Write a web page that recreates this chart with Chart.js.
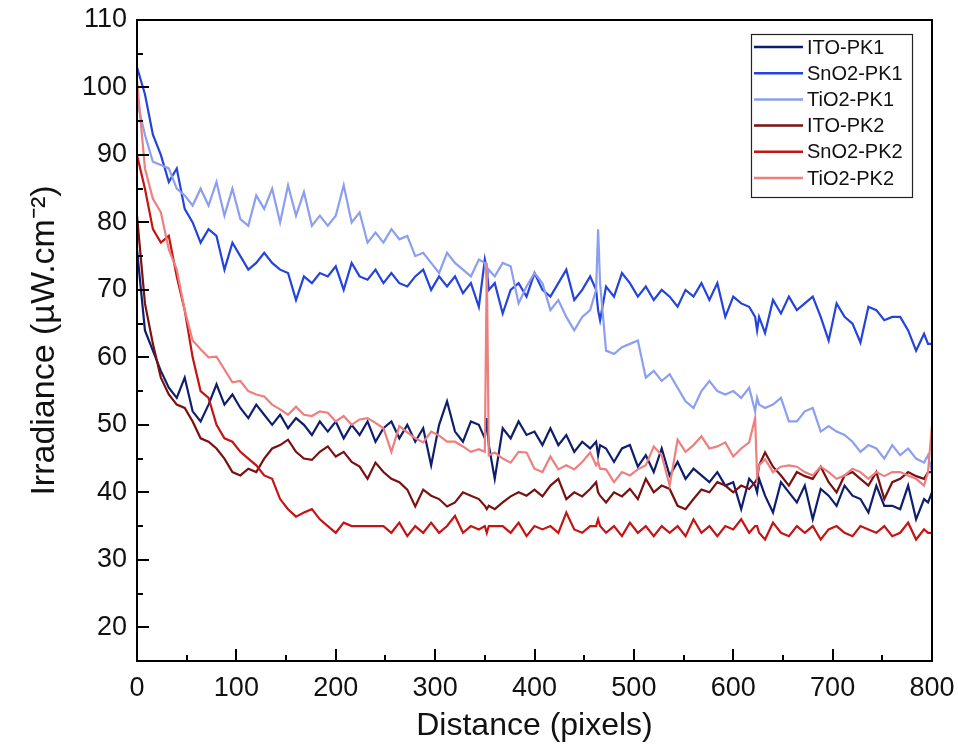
<!DOCTYPE html>
<html>
<head>
<meta charset="utf-8">
<title>Irradiance vs distance</title>
<script src="https://cdn.jsdelivr.net/npm/chart.js@4.4.1/dist/chart.umd.min.js"></script>
<style>
  html, body { margin: 0; padding: 0; background: #fff; }
  #wrap { width: 958px; height: 755px; }
</style>
</head>
<body>
<div id="wrap"><canvas id="chart" width="958" height="755"></canvas></div>
<script>
// Irradiance profiles (x in pixels, y in uW/cm2)
const FONT = 'Arial, "Liberation Sans", sans-serif';

const distance = [
    0, 8, 16, 24, 32, 40, 48, 56,
    64, 72, 80, 88, 96, 104, 112, 120,
    128, 136, 144, 152, 160, 168, 176, 184,
    192, 200, 208, 216, 224, 232, 240, 248,
    256, 264, 272, 280, 288, 296, 304, 312,
    320, 328, 336, 344, 350, 352, 354,
    360, 368, 376, 384, 392, 400, 408, 416,
    424, 432, 440, 448, 456, 462, 464, 466,
    472, 480, 488, 496, 504, 512, 520, 528,
    536, 544, 552, 560, 568, 576, 584, 592,
    600, 608, 616, 622, 624, 626,
    632, 640, 648, 656, 664, 672, 680, 688,
    696, 704, 712, 720, 728, 736, 744, 752,
    760, 768, 776, 784, 792, 796, 800
];

const itoPk1 = [
    76, 64, 61, 58, 55.5, 54, 57, 52,
    50.5, 53, 56, 53, 54.5, 52.5, 51, 53,
    51.5, 50, 51.5, 49.5, 51, 50, 48.5, 50.5,
    49, 50.5, 48, 50, 48.5, 50.5, 47.5, 49.5,
    50.5, 48, 50, 47.5, 49.5, 44, 50, 53.5,
    49, 47.5, 50.5, 50, 48, 51, 47,
    42, 49.5, 48, 50.5, 48.5, 49, 47, 49.5,
    47, 48.5, 46, 47.5, 46.5, 47.5, 45.5, 47,
    46.5, 44.5, 46.5, 47, 43.8, 45.5, 43, 46.5,
    42.5, 44.5, 42, 43.5, 42.5, 41.5, 43, 41,
    41.5, 37.5, 42, 41, 40, 42,
    39.5, 37, 41.5, 40, 38.5, 41, 36, 40.5,
    39.5, 38, 41, 39.5, 39, 37, 41, 38,
    38, 37.5, 41, 36, 39, 38.5, 40
];

const sno2Pk1 = [
    103, 99, 93, 90, 86, 88, 82, 80,
    77, 79, 78, 73, 77, 75, 73, 74,
    75.5, 74, 73, 72.5, 68.5, 72, 71, 72.5,
    72, 73.5, 70, 74, 72, 71.5, 73, 71,
    72.5, 71, 70.5, 72, 73, 70, 72, 70.5,
    72, 69.5, 71, 67.5, 74.5, 73, 70,
    71, 66.5, 70, 71, 69, 72.5, 70, 69,
    71, 73, 68.5, 70, 72, 70, 67, 65.5,
    70.5, 69, 72.5, 71, 69, 70.5, 68.5, 70,
    69, 67.5, 70, 69, 71, 68.5, 71, 66,
    69, 68, 67.5, 66, 64, 66,
    63.6, 68.5, 66.5, 69, 67, 68, 69, 66,
    62.5, 68, 66, 65, 62.2, 67.5, 67, 65.5,
    66, 66, 64, 61, 63.5, 62, 62
];

const tio2Pk1 = [
    98, 93, 89, 88.5, 88, 85, 84, 82.5,
    85, 82.5, 86, 81, 85, 80.5, 79.5, 84,
    82, 85, 80, 85.5, 81, 84.5, 79.5, 81,
    79.5, 81, 85.5, 80, 81.5, 77, 78.5, 77,
    79, 77.5, 78, 75, 75.5, 74, 72.5, 75.5,
    74, 73, 72, 74.5, 74, 71.5, 73,
    72, 74, 73.5, 68, 70.5, 72.5, 71, 67,
    68.5, 66, 64, 66, 67, 70, 79, 71,
    61, 60.5, 61.5, 62, 62.5, 57, 58, 56.5,
    57.5, 55.5, 53.5, 52.5, 55, 56.5, 55, 54.5,
    55, 54, 55.5, 52, 54, 53,
    52.5, 53, 54, 50.5, 50.5, 52, 52.5, 49,
    49.8, 49, 48.5, 47.5, 46, 47, 46.5, 45,
    47, 45.5, 46.5, 45, 44.4, 45.5, 43
];

const itoPk2 = [
    81, 68, 62, 57, 54.5, 53, 52.5, 50.5,
    48, 47.5, 46.5, 45, 43, 42.5, 43.5, 43,
    45, 46.5, 47, 47.8, 46, 45, 44.8, 46,
    46.8, 45.3, 46, 44.5, 43.8, 42, 44.4, 43,
    42, 41.5, 40.4, 37.9, 40.4, 39.5, 39, 37.9,
    38.5, 40, 39.5, 39, 38, 37.5, 38,
    37.5, 38.5, 39.4, 40, 39.5, 40.4, 39.4, 41,
    42, 39, 40, 39.4, 40.5, 41.5, 40, 39.5,
    38.5, 40, 39.4, 40.5, 39, 42, 40, 41,
    40.5, 38, 37.5, 39, 40.4, 40, 41.5, 41,
    40, 41, 40.5, 41.5, 42, 44,
    45.9, 43.8, 42.5, 41, 43, 42.4, 42, 43.8,
    41.5, 40, 42.5, 43, 42, 41, 43, 39,
    41.5, 42, 43, 42.4, 42, 43, 43
];

const sno2Pk2 = [
    90, 85, 79, 77, 78, 72, 67, 60,
    55, 54, 50, 48, 47.5, 46, 45, 44,
    42.5, 42, 39, 37.5, 36.4, 37, 37.5, 36,
    35, 34, 35.5, 35, 35, 35, 35, 35,
    34, 35.5, 33.5, 35, 34, 35.5, 34, 35,
    36.5, 34, 35, 34.5, 35, 34, 35,
    35, 35, 34, 35.5, 33.5, 35, 34.5, 35,
    34, 37, 34.5, 34, 35, 35, 36, 35,
    34, 35, 33.5, 35.5, 34, 35, 33.5, 35,
    34, 35, 33.5, 36, 34, 35, 33.5, 35,
    34.5, 36, 34, 35, 35, 34,
    33, 35.5, 34, 33.5, 35, 34, 35, 33,
    34.5, 35, 34, 33.5, 35, 34.5, 34, 35,
    33.5, 34, 35.5, 33, 34.5, 34, 34
];

const tio2Pk2 = [
    101, 88, 83.5, 81.5, 76, 73, 67, 62.5,
    61.2, 60, 60.1, 58.2, 56.3, 56.5, 55, 54.5,
    54.2, 53, 52.3, 51.5, 52.7, 51.5, 51.3, 52,
    51.8, 50.5, 51.3, 50, 50.8, 51, 50.3, 49.5,
    46, 49.8, 48.9, 48, 47.4, 49, 48.4, 47.5,
    47.5, 46.8, 46, 46.4, 46, 74, 45.5,
    45.9, 45, 44.4, 46, 45.9, 43.5, 43, 45.3,
    43.4, 44, 43.4, 44.5, 45.9, 44, 44.5, 43.5,
    43.4, 41.5, 43, 42.5, 43.4, 44, 46.8, 45.5,
    41, 47.8, 46, 47, 48.3, 46.5, 46.8, 47.4,
    45.3, 46.5, 47.4, 51, 42.4, 44,
    44.9, 43, 43.8, 44, 43.8, 43, 42.5, 43.8,
    43, 42, 42.5, 43.5, 43, 42, 43, 42.4,
    43, 43, 42.5, 42, 41, 43, 50
];

const seriesNames = ['ITO-PK1', 'SnO2-PK1', 'TiO2-PK1', 'ITO-PK2', 'SnO2-PK2', 'TiO2-PK2'];
const seriesColors = ['#0f1e6c', '#2343dc', '#8c9ef0', '#7a1010', '#c41414', '#ee7f7f'];
const allSeries = [itoPk1, sno2Pk1, tio2Pk1, itoPk2, sno2Pk2, tio2Pk2];

const xTicks = [0, 100, 200, 300, 400, 500, 600, 700, 800];
const xMinorTicks = [50, 150, 250, 350, 450, 550, 650, 750];
const yTicks = [20, 30, 40, 50, 60, 70, 80, 90, 100, 110];
const yMinorTicks = [25, 35, 45, 55, 65, 75, 85, 95, 105];

// frame, inward ticks and the boxed legend
const axisFrame = {
    id: 'axisFrame',
    afterDatasetsDraw(chart) {
        const { ctx, chartArea: a, scales: { x, y } } = chart;
        ctx.save();
        ctx.strokeStyle = '#000';
        ctx.lineWidth = 2;
        ctx.strokeRect(a.left, a.top, a.right - a.left, a.bottom - a.top);

        ctx.beginPath();
        xTicks.forEach(v => {
            const px = Math.round(x.getPixelForValue(v));
            ctx.moveTo(px, a.bottom); ctx.lineTo(px, a.bottom - 12);
        });
        xMinorTicks.forEach(v => {
            const px = Math.round(x.getPixelForValue(v));
            ctx.moveTo(px, a.bottom); ctx.lineTo(px, a.bottom - 6);
        });
        yTicks.forEach(v => {
            const py = Math.round(y.getPixelForValue(v));
            ctx.moveTo(a.left, py); ctx.lineTo(a.left + 12, py);
        });
        yMinorTicks.forEach(v => {
            const py = Math.round(y.getPixelForValue(v));
            ctx.moveTo(a.left, py); ctx.lineTo(a.left + 6, py);
        });
        ctx.stroke();

        // legend box
        const boxL = a.right - 181, boxT = a.top + 14, boxW = 161, boxH = 163;
        ctx.fillStyle = '#fff';
        ctx.fillRect(boxL, boxT, boxW, boxH);
        ctx.lineWidth = 1.2;
        ctx.strokeStyle = '#222';
        ctx.strokeRect(boxL + 0.5, boxT + 0.5, boxW, boxH);
        ctx.font = '20px ' + FONT;
        ctx.textBaseline = 'middle';
        ctx.textAlign = 'left';
        chart.data.datasets.forEach((ds, i) => {
            const cy = boxT + 13 + i * 26.2;
            ctx.strokeStyle = ds.borderColor;
            ctx.lineWidth = 2.5;
            ctx.beginPath();
            ctx.moveTo(boxL + 3, cy); ctx.lineTo(boxL + 52, cy);
            ctx.stroke();
            ctx.fillStyle = '#111';
            ctx.fillText(ds.label, boxL + 56, cy + 1);
        });
        ctx.restore();
    }
};

const datasets = seriesNames.map((name, i) => ({
    label: name,
    data: distance.map((d, j) => ({ x: d, y: allSeries[i][j] })),
    borderColor: seriesColors[i],
    backgroundColor: seriesColors[i],
    borderWidth: 2.2,
    pointRadius: 0,
    tension: 0,
    order: seriesNames.length - i
}));

new Chart(document.getElementById('chart'), {
    type: 'line',
    data: { datasets: datasets },
    options: {
        responsive: false,
        animation: false,
        devicePixelRatio: 1,
        layout: { padding: { top: 20, right: 26, left: 0, bottom: 0 } },
        plugins: {
            legend: { display: false },
            tooltip: { enabled: false }
        },
        scales: {
            x: {
                type: 'linear',
                min: 0,
                max: 800,
                afterBuildTicks: s => { s.ticks = xTicks.map(v => ({ value: v })); },
                afterFit: s => { s.height = 94; s.paddingLeft = 0; s.paddingRight = 0; },
                grid: { display: false, drawTicks: false },
                border: { display: false },
                ticks: { color: '#111', font: { family: FONT, size: 27 }, padding: 11, maxRotation: 0 },
                title: {
                    display: true,
                    text: 'Distance (pixels)',
                    color: '#111',
                    font: { family: FONT, size: 32 },
                    padding: { top: 0, bottom: 10 }
                }
            },
            y: {
                type: 'linear',
                min: 15,
                max: 110,
                afterBuildTicks: s => { s.ticks = yTicks.map(v => ({ value: v })); },
                afterFit: s => { s.width = 137; s.paddingTop = 0; s.paddingBottom = 0; },
                grid: { display: false, drawTicks: false },
                border: { display: false },
                ticks: { color: '#111', font: { family: FONT, size: 27 }, padding: 10 },
                title: {
                    display: true,
                    text: 'Irradiance (µW.cm⁻²)',
                    color: '#111',
                    font: { family: FONT, size: 34 },
                    padding: { top: 24, bottom: 0 }
                }
            }
        }
    },
    plugins: [axisFrame]
});
</script>
</body>
</html>
